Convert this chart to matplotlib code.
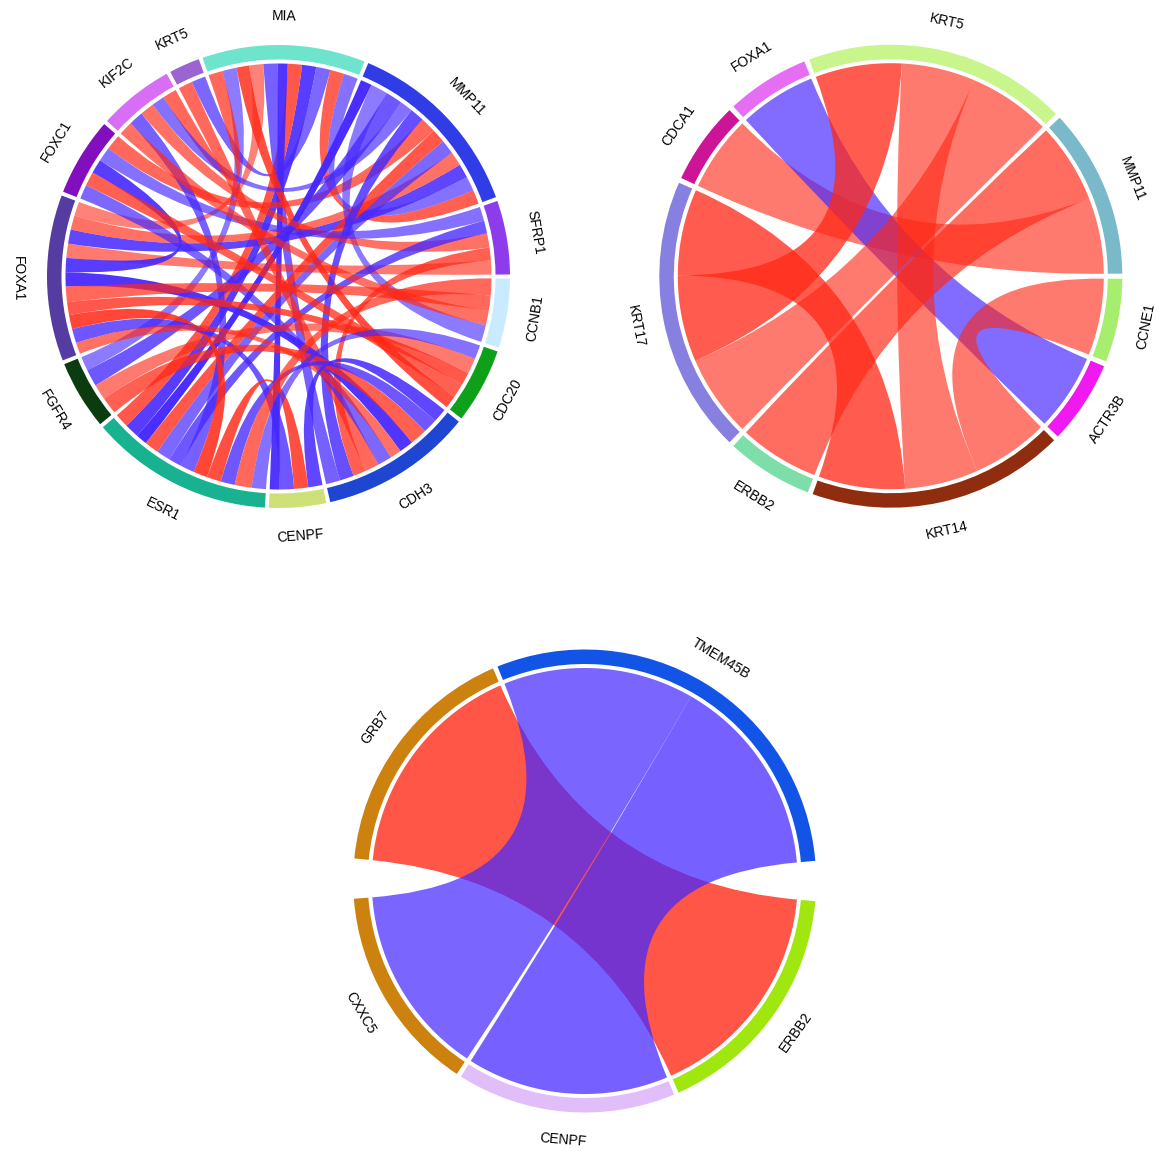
import numpy as np
import matplotlib
matplotlib.use("Agg")
import matplotlib.pyplot as plt
from matplotlib.path import Path
from matplotlib.patches import PathPatch, Wedge

plt.rcParams["font.family"] = ["Liberation Sans", "DejaVu Sans"]

# ---------------- panel 1 ----------------
genes_1 = ["SFRP1", "MMP11", "MIA", "KRT5", "KIF2C", "FOXC1", "FOXA1",
           "FGFR4", "ESR1", "CENPF", "CDH3", "CDC20", "CCNB1"]
gene_colors_1 = ["#8c3ceb", "#303ce6", "#6ee4cd", "#9b64d2", "#d76ef5", "#820fbe",
                 "#553ca0", "#0a3c0f", "#19b291", "#cde178", "#1e46d2", "#0fa019",
                 "#c8ebff"]
link_a_1 = ["MIA", "MIA", "MIA", "MIA", "MIA", "MIA", "MIA", "MIA", "MIA", "MIA", "MIA",
            "MMP11", "MMP11", "MMP11", "MMP11", "MMP11", "MMP11", "MMP11", "MMP11",
            "MMP11", "MMP11",
            "SFRP1", "SFRP1", "SFRP1", "SFRP1", "SFRP1",
            "KRT5", "KIF2C", "KIF2C", "FOXC1", "FOXC1", "FOXC1",
            "FOXA1", "FOXA1", "FOXA1", "FOXA1", "FOXA1", "FOXA1",
            "FGFR4", "FGFR4", "ESR1", "ESR1", "ESR1", "ESR1", "CENPF"]
link_b_1 = ["MMP11", "MMP11", "KRT5", "ESR1", "ESR1", "CENPF", "CDH3", "FOXA1", "CDC20",
            "FGFR4", "KIF2C",
            "FOXA1", "FOXA1", "ESR1", "ESR1", "FOXC1", "CDH3", "KIF2C", "FGFR4",
            "CCNB1", "ESR1",
            "FOXA1", "CDH3", "KIF2C", "ESR1", "FOXC1",
            "CDH3", "ESR1", "CCNB1", "FOXA1", "CDC20", "CDH3",
            "CDH3", "CCNB1", "CDC20", "ESR1", "CENPF", "CDH3",
            "CDC20", "CDH3", "CENPF", "CDH3", "CCNB1", "CDC20", "CDH3"]
link_value_1 = [1.0, 1.0, 1.0, 1.0, 1.0, 0.7, 1.0, 1.0, 0.9, 1.0, 1.0,
                1.0, 1.0, 1.0, 1.0, 1.1, 1.0, 0.9, 1.2, 1.2, 0.8,
                1.0, 0.9, 1.0, 0.9, 1.0,
                1.0, 1.0, 1.0, 1.0, 1.0, 1.0,
                1.0, 1.1, 0.9, 1.0, 1.0, 0.8,
                1.1, 1.2, 1.0, 1.0, 1.2, 1.0, 1.0]
link_corr_1 = [0.55, -0.45, -0.50, -0.75, 0.60, -0.80, -0.55, 0.35, 0.65, -0.40, 0.50,
               -0.70, 0.45, -0.50, 0.60, 0.50, -0.65, -0.45, -0.60, -0.40, -0.85,
               0.40, 0.55, 0.45, -0.60, -0.45,
               0.50, -0.55, 0.45, -0.75, 0.55, -0.50,
               -0.80, 0.50, 0.60, 0.70, -0.60, 0.45,
               0.40, 0.55, 0.65, -0.60, 0.50, -0.45, -0.70]

# ---------------- panel 2 ----------------
genes_2 = ["MMP11", "KRT5", "FOXA1", "CDCA1", "KRT17", "ERBB2", "KRT14",
           "ACTR3B", "CCNE1"]
gene_colors_2 = ["#7ab9ca", "#c8f58c", "#e66ef5", "#cd1496", "#8780e1", "#7ddeaa",
                 "#912d0f", "#f019f0", "#a8ee6e"]
link_a_2 = ["CDCA1", "FOXA1", "ERBB2", "KRT17", "KRT17", "KRT14", "KRT17", "KRT14"]
link_b_2 = ["MMP11", "ACTR3B", "MMP11", "KRT14", "KRT5", "KRT5", "KRT5", "CCNE1"]
link_value_2 = [0.94, 0.95, 0.99, 1.07, 1.02, 0.91, 1.07, 0.95]
link_corr_2 = [0.40, -0.48, 0.48, 0.575, 0.40, 0.40, 0.575, 0.40]

# ---------------- panel 3 ----------------
genes_3 = ["TMEM45B", "GRB7", "CXXC5", "CENPF", "ERBB2"]
gene_colors_3 = ["#1255e6", "#cd820f", "#cd820f", "#e1befa", "#a0e60f"]
link_a_3 = ["GRB7", "TMEM45B", "TMEM45B"]
link_b_3 = ["ERBB2", "CENPF", "CXXC5"]
link_value_3 = [0.61, 0.55, 0.52]
link_corr_3 = [0.61, -0.55, -0.52]

W, H = 1158, 1151
R_OUT, RING_W, R_CHORD, R_LABEL = 231.5, 14.5, 213.0, 260.0
POS_RGB = np.array([255, 40, 22]) / 255
NEG_RGB = np.array([70, 40, 255]) / 255


def layout(genes, link_a, link_b, link_value, gaps):
    idx = {g: i for i, g in enumerate(genes)}
    ends = [[] for _ in genes]
    for k, (a, b) in enumerate(zip(link_a, link_b)):
        ends[idx[a]].append((k, idx[b]))
        ends[idx[b]].append((k, idx[a]))
    # repeated pairs are nested: reverse their order on the higher-index side
    for i in range(len(genes)):
        for j in set(p for _, p in ends[i]):
            if i > j:
                pos = [m for m, (_, p) in enumerate(ends[i]) if p == j]
                items = [ends[i][m] for m in pos][::-1]
                for m, it in zip(pos, items):
                    ends[i][m] = it
    total = sum(link_value[k] for e in ends for k, _ in e)
    scale = (360 - sum(gaps)) / total
    theta = gaps[-1] / 2
    arcs, slots = [], {}
    for i, e in enumerate(ends):
        start = theta
        for k, _ in e:
            w = link_value[k] * scale
            slots[(k, i)] = (theta, theta + w)
            theta += w
        arcs.append((start, theta))
        theta += gaps[i]
    return idx, arcs, slots


def arc_pts(r, t0, t1, n=60):
    t = np.radians(np.linspace(t0, t1, n))
    return np.column_stack([r * np.cos(t), r * np.sin(t)])


def ribbon(r, s, e):
    a = arc_pts(r, *s)
    b = arc_pts(r, *e)
    verts = list(a) + [(0, 0), b[0]] + list(b[1:]) + [(0, 0), a[0], a[0]]
    codes = ([Path.MOVETO] + [Path.LINETO] * (len(a) - 1) + [Path.CURVE3] * 2
             + [Path.LINETO] * (len(b) - 1) + [Path.CURVE3] * 2 + [Path.CLOSEPOLY])
    return Path(verts, codes)


def label_rotation(theta):
    rot = (theta + 90) % 360
    if 90 < rot < 270:
        rot -= 180
    return rot


def chord_panel(fig, cx, cy, genes, colors, link_a, link_b, link_value, link_corr, gaps):
    h = 290
    ax = fig.add_axes([(cx - h) / W, 1 - (cy + h) / H, 2 * h / W, 2 * h / H])
    ax.set_xlim(-h, h)
    ax.set_ylim(-h, h)
    ax.axis("off")

    idx, arcs, slots = layout(genes, link_a, link_b, link_value, gaps)

    for k, (a, b) in enumerate(zip(link_a, link_b)):
        c = link_corr[k]
        rgb = POS_RGB if c > 0 else NEG_RGB
        alpha = min(1.0, 0.3 + 0.8 * abs(c))
        path = ribbon(R_CHORD, slots[(k, idx[a])], slots[(k, idx[b])])
        ax.add_patch(PathPatch(path, facecolor=rgb, alpha=alpha, lw=0))

    for g, col, (t0, t1) in zip(genes, colors, arcs):
        ax.add_patch(Wedge((0, 0), R_OUT, t0, t1, width=RING_W, facecolor=col, lw=0))
        mid = (t0 + t1) / 2
        x = R_LABEL * np.cos(np.radians(mid))
        y = R_LABEL * np.sin(np.radians(mid))
        ax.text(x, y, g, rotation=label_rotation(mid), rotation_mode="anchor",
                ha="center", va="center", fontsize=10, color="black")


fig = plt.figure(figsize=(W / 100, H / 100), dpi=100)

chord_panel(fig, 278.5, 276.5, genes_1, gene_colors_1, link_a_1, link_b_1,
            link_value_1, link_corr_1, [1.0] * len(genes_1))
chord_panel(fig, 890.8, 276.2, genes_2, gene_colors_2, link_a_2, link_b_2,
            link_value_2, link_corr_2, [1.3] * len(genes_2))
chord_panel(fig, 584.7, 881.0, genes_3, gene_colors_3, link_a_3, link_b_3,
            link_value_3, link_corr_3, [1.2, 10.0, 1.2, 1.2, 10.0])

fig.savefig("out.png", dpi=100, facecolor="white")
